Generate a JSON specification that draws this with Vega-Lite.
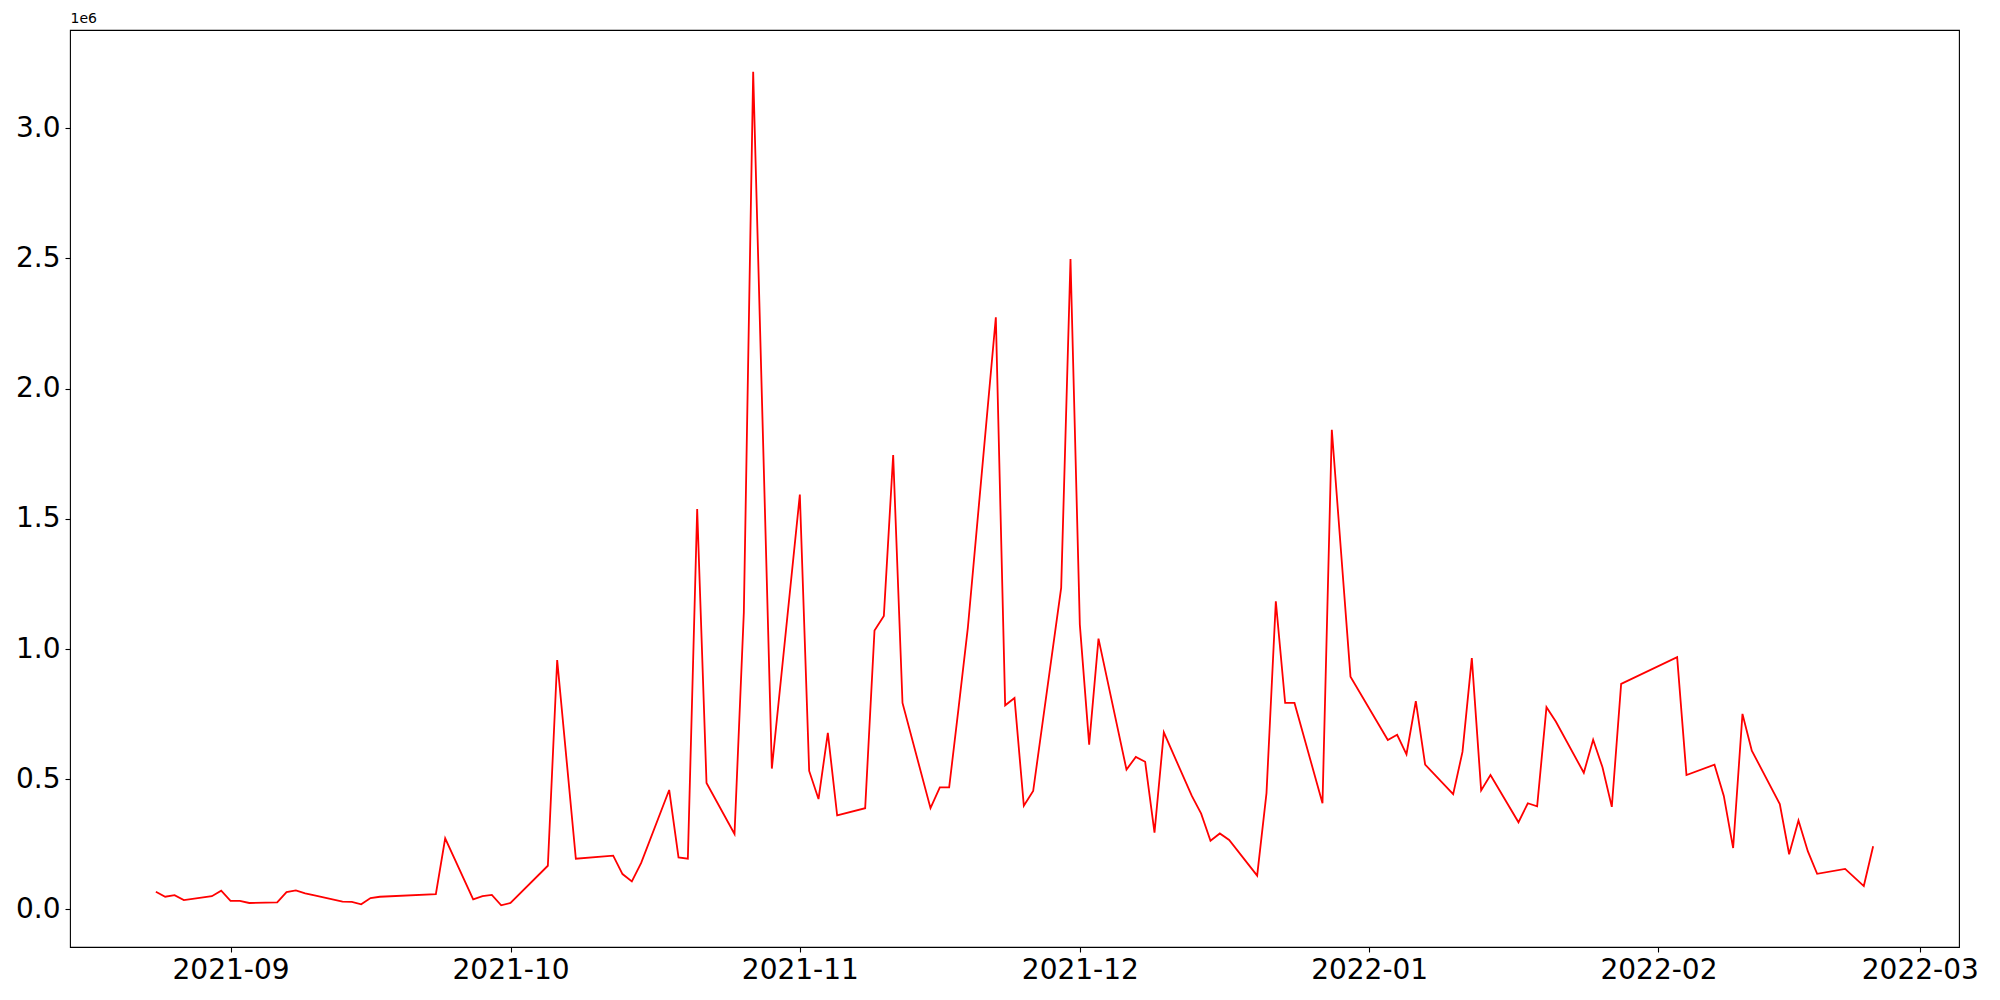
{
  "$schema": "https://vega.github.io/schema/vega-lite/v6.json",
  "width": 1889,
  "height": 917,
  "autosize": {"type": "none"},
  "padding": {"left": 70, "top": 30, "right": 41, "bottom": 53},
  "background": "white",
  "config": {
    "font": "DejaVu Sans",
    "view": {"stroke": "black", "strokeWidth": 1.1},
    "axis": {"grid": false, "domain": false, "tickColor": "black", "tickWidth": 1.1, "tickSize": 5, "labelColor": "black", "labelFont": "DejaVu Sans", "labelFontSize": 28}
  },
  "data": {
    "values": [
      {"date": "2021-08-24", "value": 68000},
      {"date": "2021-08-25", "value": 49000},
      {"date": "2021-08-26", "value": 55000},
      {"date": "2021-08-27", "value": 36000},
      {"date": "2021-08-30", "value": 51000},
      {"date": "2021-08-31", "value": 72000},
      {"date": "2021-09-01", "value": 33000},
      {"date": "2021-09-02", "value": 33000},
      {"date": "2021-09-03", "value": 25000},
      {"date": "2021-09-06", "value": 27000},
      {"date": "2021-09-07", "value": 67000},
      {"date": "2021-09-08", "value": 73000},
      {"date": "2021-09-09", "value": 62000},
      {"date": "2021-09-10", "value": 54000},
      {"date": "2021-09-13", "value": 30000},
      {"date": "2021-09-14", "value": 29000},
      {"date": "2021-09-15", "value": 20000},
      {"date": "2021-09-16", "value": 44000},
      {"date": "2021-09-17", "value": 49000},
      {"date": "2021-09-23", "value": 59000},
      {"date": "2021-09-24", "value": 273000},
      {"date": "2021-09-27", "value": 39000},
      {"date": "2021-09-28", "value": 51000},
      {"date": "2021-09-29", "value": 56000},
      {"date": "2021-09-30", "value": 16000},
      {"date": "2021-10-01", "value": 25000},
      {"date": "2021-10-05", "value": 168000},
      {"date": "2021-10-06", "value": 958000},
      {"date": "2021-10-08", "value": 195000},
      {"date": "2021-10-12", "value": 207000},
      {"date": "2021-10-13", "value": 136000},
      {"date": "2021-10-14", "value": 108000},
      {"date": "2021-10-15", "value": 179000},
      {"date": "2021-10-18", "value": 459000},
      {"date": "2021-10-19", "value": 200000},
      {"date": "2021-10-20", "value": 195000},
      {"date": "2021-10-21", "value": 1538000},
      {"date": "2021-10-22", "value": 486000},
      {"date": "2021-10-25", "value": 290000},
      {"date": "2021-10-26", "value": 1141000},
      {"date": "2021-10-27", "value": 3217000},
      {"date": "2021-10-28", "value": 1880000},
      {"date": "2021-10-29", "value": 541000},
      {"date": "2021-11-01", "value": 1593000},
      {"date": "2021-11-02", "value": 532000},
      {"date": "2021-11-03", "value": 424000},
      {"date": "2021-11-04", "value": 678000},
      {"date": "2021-11-05", "value": 361000},
      {"date": "2021-11-08", "value": 389000},
      {"date": "2021-11-09", "value": 1071000},
      {"date": "2021-11-10", "value": 1127000},
      {"date": "2021-11-11", "value": 1745000},
      {"date": "2021-11-12", "value": 793000},
      {"date": "2021-11-15", "value": 389000},
      {"date": "2021-11-16", "value": 469000},
      {"date": "2021-11-17", "value": 469000},
      {"date": "2021-11-18", "value": 771000},
      {"date": "2021-11-19", "value": 1081000},
      {"date": "2021-11-22", "value": 2274000},
      {"date": "2021-11-23", "value": 784000},
      {"date": "2021-11-24", "value": 812000},
      {"date": "2021-11-25", "value": 398000},
      {"date": "2021-11-26", "value": 455000},
      {"date": "2021-11-29", "value": 1235000},
      {"date": "2021-11-30", "value": 2498000},
      {"date": "2021-12-01", "value": 1094000},
      {"date": "2021-12-02", "value": 633000},
      {"date": "2021-12-03", "value": 1040000},
      {"date": "2021-12-06", "value": 537000},
      {"date": "2021-12-07", "value": 586000},
      {"date": "2021-12-08", "value": 567000},
      {"date": "2021-12-09", "value": 295000},
      {"date": "2021-12-10", "value": 680000},
      {"date": "2021-12-13", "value": 436000},
      {"date": "2021-12-14", "value": 368000},
      {"date": "2021-12-15", "value": 264000},
      {"date": "2021-12-16", "value": 292000},
      {"date": "2021-12-17", "value": 267000},
      {"date": "2021-12-20", "value": 130000},
      {"date": "2021-12-21", "value": 447000},
      {"date": "2021-12-22", "value": 1183000},
      {"date": "2021-12-23", "value": 793000},
      {"date": "2021-12-24", "value": 793000},
      {"date": "2021-12-27", "value": 408000},
      {"date": "2021-12-28", "value": 1842000},
      {"date": "2021-12-29", "value": 1368000},
      {"date": "2021-12-30", "value": 894000},
      {"date": "2022-01-03", "value": 651000},
      {"date": "2022-01-04", "value": 671000},
      {"date": "2022-01-05", "value": 596000},
      {"date": "2022-01-06", "value": 800000},
      {"date": "2022-01-07", "value": 556000},
      {"date": "2022-01-10", "value": 443000},
      {"date": "2022-01-11", "value": 605000},
      {"date": "2022-01-12", "value": 965000},
      {"date": "2022-01-13", "value": 457000},
      {"date": "2022-01-14", "value": 516000},
      {"date": "2022-01-17", "value": 335000},
      {"date": "2022-01-18", "value": 408000},
      {"date": "2022-01-19", "value": 396000},
      {"date": "2022-01-20", "value": 777000},
      {"date": "2022-01-21", "value": 722000},
      {"date": "2022-01-24", "value": 525000},
      {"date": "2022-01-25", "value": 652000},
      {"date": "2022-01-26", "value": 546000},
      {"date": "2022-01-27", "value": 394000},
      {"date": "2022-01-28", "value": 866000},
      {"date": "2022-02-03", "value": 969000},
      {"date": "2022-02-04", "value": 516000},
      {"date": "2022-02-07", "value": 556000},
      {"date": "2022-02-08", "value": 436000},
      {"date": "2022-02-09", "value": 236000},
      {"date": "2022-02-10", "value": 751000},
      {"date": "2022-02-11", "value": 610000},
      {"date": "2022-02-14", "value": 405000},
      {"date": "2022-02-15", "value": 212000},
      {"date": "2022-02-16", "value": 342000},
      {"date": "2022-02-17", "value": 224000},
      {"date": "2022-02-18", "value": 137000},
      {"date": "2022-02-21", "value": 156000},
      {"date": "2022-02-23", "value": 90000},
      {"date": "2022-02-24", "value": 243000}
    ]
  },
  "mark": {"type": "line", "color": "#ff0000", "strokeWidth": 1.8, "clip": true},
  "encoding": {
    "x": {
      "field": "date",
      "type": "temporal",
      "scale": {
        "type": "utc",
        "domain": [
          {"year": 2021, "month": 8, "date": 14, "hours": 19, "minutes": 12, "utc": true},
          {"year": 2022, "month": 3, "date": 5, "hours": 4, "minutes": 48, "utc": true}
        ]
      },
      "axis": {
        "title": null,
        "labelExpr": "utcFormat(datum.value, '%Y-%m')",
        "labelPadding": 4,
        "labelFlush": false,
        "labelOverlap": false,
        "values": [
          {"year": 2021, "month": 9, "date": 1, "utc": true},
          {"year": 2021, "month": 10, "date": 1, "utc": true},
          {"year": 2021, "month": 11, "date": 1, "utc": true},
          {"year": 2021, "month": 12, "date": 1, "utc": true},
          {"year": 2022, "month": 1, "date": 1, "utc": true},
          {"year": 2022, "month": 2, "date": 1, "utc": true},
          {"year": 2022, "month": 3, "date": 1, "utc": true}
        ]
      }
    },
    "y": {
      "field": "value",
      "type": "quantitative",
      "scale": {"domain": [-144000, 3377000], "nice": false, "zero": false},
      "axis": {
        "values": [0, 500000, 1000000, 1500000, 2000000, 2500000, 3000000],
        "labelExpr": "format(datum.value / 1000000, '.1f')",
        "labelPadding": 5,
        "title": "1e6",
        "titleAngle": 0,
        "titleX": 0,
        "titleY": -5,
        "titleAlign": "left",
        "titleBaseline": "bottom",
        "titleFont": "DejaVu Sans",
        "titleFontWeight": "normal",
        "titleFontSize": 14,
        "titleColor": "black"
      }
    }
  }
}
